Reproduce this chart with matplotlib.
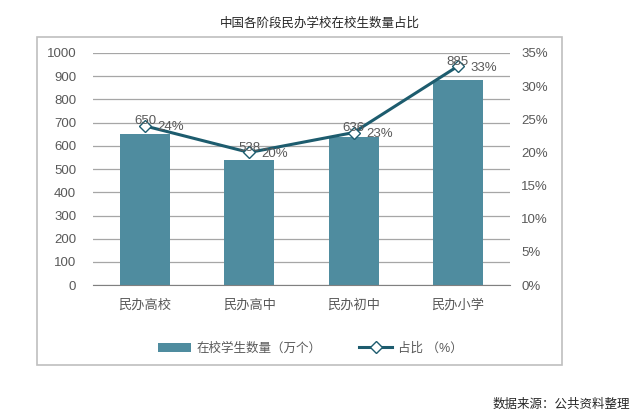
import matplotlib
matplotlib.use("Agg")
import matplotlib.pyplot as plt
from matplotlib.patches import Rectangle
from matplotlib.ticker import FuncFormatter

plt.rcParams["font.family"] = ["Liberation Sans", "Noto Sans CJK SC", "DejaVu Sans"]

categories = ["民办高校", "民办高中", "民办初中", "民办小学"]
students = [650, 538, 636, 885]
share = [24, 20, 23, 33]

bar_color = "#4F8C9F"
line_color = "#1D5C6E"
text_color = "#595959"
grid_color = "#A6A6A6"

fig = plt.figure(figsize=(6.4, 4.2), dpi=100)
fig.patches.append(Rectangle((0.058, 0.131), 0.82, 0.781, transform=fig.transFigure,
                             fill=False, edgecolor="#BFBFBF", linewidth=1.2))

ax = fig.add_axes([0.145, 0.321, 0.652, 0.553])
x = list(range(len(categories)))
ax.bar(x, students, width=0.48, color=bar_color, zorder=2, label="在校学生数量（万个）")
ax.set_ylim(0, 1000)
ax.set_yticks(range(0, 1001, 100))
ax.set_xlim(-0.5, len(categories) - 0.5)
ax.set_xticks(x)
ax.set_xticklabels(categories)
ax.grid(axis="y", color=grid_color, linewidth=0.9, zorder=0)
for s in ["top", "left", "right"]:
    ax.spines[s].set_visible(False)
ax.spines["bottom"].set_color("#808080")
ax.tick_params(axis="both", length=0, colors=text_color, labelsize=9.5)
ax.tick_params(axis="y", pad=12)
ax.tick_params(axis="x", pad=10)

ax2 = ax.twinx()
ax2.plot(x, share, color=line_color, linewidth=2.2, marker="D", markersize=6,
         markerfacecolor="white", markeredgecolor=line_color, markeredgewidth=1,
         zorder=3, label="占比 （%）")
ax2.set_ylim(0, 35)
ax2.set_yticks(range(0, 36, 5))
ax2.yaxis.set_major_formatter(FuncFormatter(lambda v, p: f"{v:.0f}%"))
for s in ["top", "left", "right", "bottom"]:
    ax2.spines[s].set_visible(False)
ax2.tick_params(axis="y", length=0, colors=text_color, labelsize=9.5, pad=8)

for xi, n, p in zip(x, students, share):
    ax2.annotate(str(n), (xi, p), xytext=(0, -1), textcoords="offset points",
                 ha="center", va="bottom", fontsize=9.5, color=text_color)
    ax2.annotate(f"{p}%", (xi, p), xytext=(9, -1), textcoords="offset points",
                 ha="left", va="center", fontsize=9.5, color=text_color)

fig.text(0.5, 0.945, "中国各阶段民办学校在校生数量占比", ha="center", va="center",
         fontsize=9, color="#262626")

h1, l1 = ax.get_legend_handles_labels()
h2, l2 = ax2.get_legend_handles_labels()
fig.legend(h1 + h2, l1 + l2, loc="center", bbox_to_anchor=(0.485, 0.17), ncol=2,
           frameon=False, fontsize=9, labelcolor=text_color, handlelength=2.6,
           columnspacing=3, handletextpad=0.5)

fig.text(0.985, 0.035, "数据来源：公共资料整理", ha="right", va="center",
         fontsize=9, color="#262626")

fig.savefig("out.png", dpi=100)
